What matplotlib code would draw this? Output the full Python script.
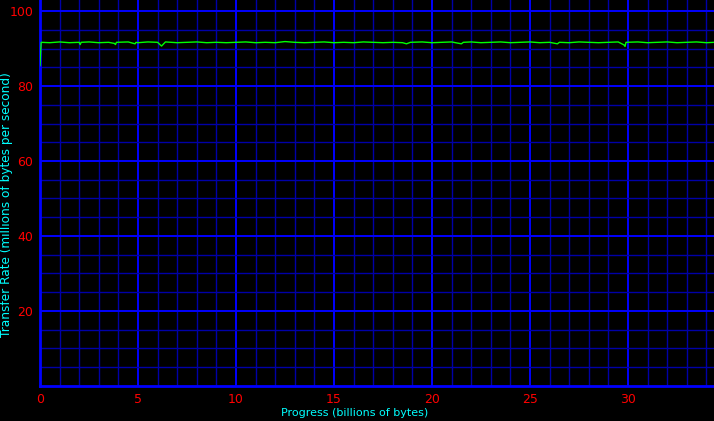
import numpy as np
import matplotlib.pyplot as plt
from matplotlib.ticker import MultipleLocator

# transfer rate samples (progress in billions of bytes, rate in MB/s)
progress = [0.0, 0.03, 0.06, 0.5, 1.0, 1.5, 2.0, 2.05, 2.1, 2.5, 3.0, 3.5, 3.8, 3.85,
            3.9, 4.5, 4.85, 4.9, 5.0, 5.5, 6.0, 6.2, 6.4, 7.0, 7.5, 8.0, 8.5, 9.0,
            9.5, 10.0, 10.5, 11.0, 11.5, 12.0, 12.5, 13.0, 13.5, 14.0, 14.5, 15.0,
            15.5, 16.0, 16.5, 17.0, 17.5, 18.0, 18.5, 18.7, 18.9, 19.5, 20.0, 20.5,
            21.0, 21.5, 21.6, 22.0, 22.5, 23.0, 23.5, 24.0, 24.5, 25.0, 25.5, 26.0,
            26.4, 26.5, 27.0, 27.5, 28.0, 28.5, 29.0, 29.5, 29.8, 29.85, 29.9, 30.5,
            31.0, 31.5, 32.0, 32.5, 33.0, 33.5, 34.0, 34.4]
rate = [85.5, 88.8, 91.7, 91.6, 91.8, 91.6, 91.7, 91.1, 91.7, 91.8, 91.6, 91.7, 91.4, 91.1,
        91.7, 91.8, 91.3, 91.7, 91.6, 91.8, 91.7, 90.7, 91.8, 91.6, 91.7, 91.8, 91.6, 91.7,
        91.6, 91.7, 91.8, 91.6, 91.7, 91.6, 91.9, 91.7, 91.6, 91.7, 91.8, 91.6,
        91.7, 91.6, 91.8, 91.7, 91.6, 91.7, 91.6, 91.3, 91.7, 91.8, 91.6, 91.7,
        91.8, 91.3, 91.7, 91.8, 91.6, 91.7, 91.8, 91.6, 91.7, 91.8, 91.6, 91.7,
        91.3, 91.7, 91.6, 91.8, 91.7, 91.6, 91.7, 91.8, 91.0, 90.6, 91.7, 91.8,
        91.6, 91.7, 91.8, 91.6, 91.7, 91.8, 91.6, 91.7]

x_ticks = [0, 5, 10, 15, 20, 25, 30]
y_ticks = [20, 40, 60, 80, 100]

fig = plt.figure(figsize=(7.14, 4.21), dpi=100, facecolor='black')
ax = fig.add_axes([40/714, 35.3/421, 674/714, 385.7/421], facecolor='black')

ax.set_xlim(0, 34.39)
ax.set_ylim(0, 103)
ax.set_xticks(x_ticks)
ax.set_yticks(y_ticks)
ax.xaxis.set_minor_locator(MultipleLocator(1))
ax.yaxis.set_minor_locator(MultipleLocator(5))

ax.grid(which='minor', color='#0000a8', lw=1.0)
ax.grid(which='major', color='#0000ff', lw=1.4)
ax.set_axisbelow(True)

for s in ['top', 'right']:
    ax.spines[s].set_visible(False)
for s in ['left', 'bottom']:
    ax.spines[s].set_color('#0000ff')
    ax.spines[s].set_linewidth(2)

ax.tick_params(which='both', length=0)
ax.tick_params(axis='both', colors='#ff0000', labelsize=9)
ax.tick_params(axis='x', pad=5)
ax.tick_params(axis='y', pad=5)

ax.plot(progress, rate, color='#00ff00', lw=1.0, zorder=3)

fig.text(355/714, 1 - 413/421, 'Progress (billions of bytes)', color='#00ffff',
         fontsize=8, ha='center', va='center')
fig.text(7/714, 1 - 205/421, 'Transfer Rate (millions of bytes per second)', color='#00ffff',
         fontsize=8.75, rotation=90, ha='center', va='center')

fig.savefig('out.png', dpi=100, facecolor='black')
